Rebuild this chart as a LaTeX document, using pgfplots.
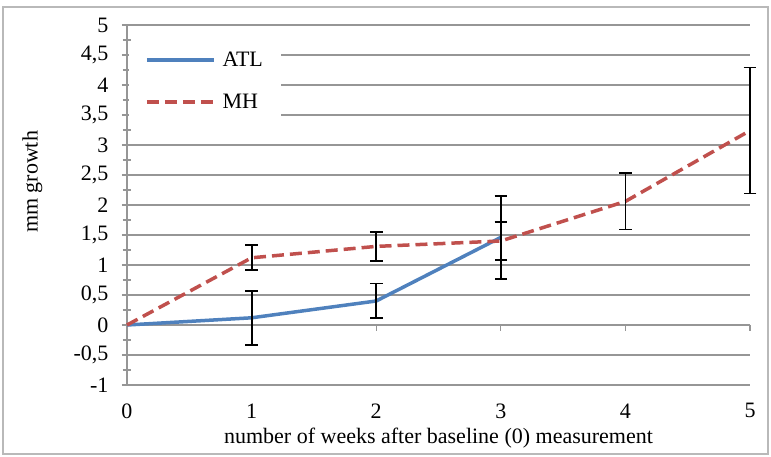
\documentclass[border=0pt]{standalone}
\usepackage{pgfplots}
\pgfplotsset{compat=1.18}
\usepackage{fontspec}
\setmainfont{Liberation Serif}
\definecolor{atl}{RGB}{79,129,189}
\definecolor{mh}{RGB}{192,80,77}
\definecolor{gridc}{RGB}{150,150,150}
\pgfplotstableread{
x y e
0 0 0
1 0.12 0.45
2 0.40 0.29
3 1.46 0.69
}\atl
\pgfplotstableread{
x y e
0 0 0
1 1.12 0.21
2 1.31 0.245
3 1.40 0.32
4 2.06 0.47
5 3.24 1.05
}\mh
\pgfplotstableread{
x y e
1 0.12 0.45
2 0.40 0.29
3 1.46 0.69
}\atlerr
\pgfplotstableread{
x y e
1 1.12 0.21
2 1.31 0.245
3 1.40 0.32
4 2.06 0.47
5 3.24 1.05
}\mherr
\begin{document}
\begin{tikzpicture}[x=1pt,y=1pt,font=\fontsize{22}{26}\selectfont]
\path[use as bounding box] (0,0) rectangle (771,457);
\draw[gray!55, line width=1.2pt] (3,3) rectangle (768,450);
\begin{axis}[
  at={(127pt,72pt)}, anchor=south west,
  scale only axis, width=623pt, height=360pt,
  xmin=0, xmax=5, ymin=-1, ymax=5,
  axis lines*=left,
  axis line style={gridc, line width=1.3pt},
  xtick={0,1,2,3,4,5},
  xticklabels={0,1,2,3,4,5},
  major x tick style={draw=none},
  xticklabel style={yshift=-10pt},
  ytick={-1,-0.5,0,0.5,1,1.5,2,2.5,3,3.5,4,4.5,5},
  yticklabels={-1,{-0,5},0,{0,5},1,{1,5},2,{2,5},3,{3,5},4,{4,5},5},
  minor y tick num=1,
  tick align=center,
  major tick length=10pt,
  minor tick length=8pt,
  y tick style={gridc, line width=1.3pt},
  yticklabel style={xshift=-10pt},
  ymajorgrids,
  major grid style={gridc, line width=1.3pt},
  xlabel={number of weeks after baseline (0) measurement},
  ylabel={mm growth},
  xlabel style={at={(axis description cs:0.5,-0.147)}, anchor=center},
  ylabel style={at={(axis description cs:-0.152,0.564)}, anchor=center},
  legend style={at={(rel axis cs:0.003,0.953)}, anchor=north west, draw=none, fill=white,
    inner xsep=16pt, inner ysep=8pt, row sep=22pt,
    font=\fontsize{22}{26}\selectfont},
  legend cell align=left,
  legend image code/.code={\draw[#1] (0pt,0pt) -- (67pt,0pt); \path (72pt,0pt);},
  clip=false,
]
\draw[gridc, line width=1.3pt] (axis cs:0,0) -- (axis cs:5,0);
\pgfplotsinvokeforeach{1,2,3,4,5}{
  \draw[gridc, line width=1.3pt] (axis cs:#1,0) -- ([yshift=-6pt]axis cs:#1,0);
}
\addplot[atl, line width=3.5pt, no markers] table[x=x,y=y] {\atl};
\addlegendentry{ATL}
\addplot[mh, line width=3.5pt, no markers, dash pattern=on 12pt off 6pt] table[x=x,y=y] {\mh};
\addlegendentry{MH}
\addplot[draw=none, no markers, forget plot,
  error bars/.cd, y dir=both, y explicit,
  error bar style={black, line width=1.8pt, solid},
  error mark options={rotate=90, black, mark size=6.3pt, line width=1.8pt}]
  table[x=x,y=y,y error=e] {\atlerr};
\addplot[draw=none, no markers, forget plot,
  error bars/.cd, y dir=both, y explicit,
  error bar style={black, line width=1.8pt, solid},
  error mark options={rotate=90, black, mark size=6.3pt, line width=1.8pt}]
  table[x=x,y=y,y error=e] {\mherr};
\end{axis}
\end{tikzpicture}
\end{document}
